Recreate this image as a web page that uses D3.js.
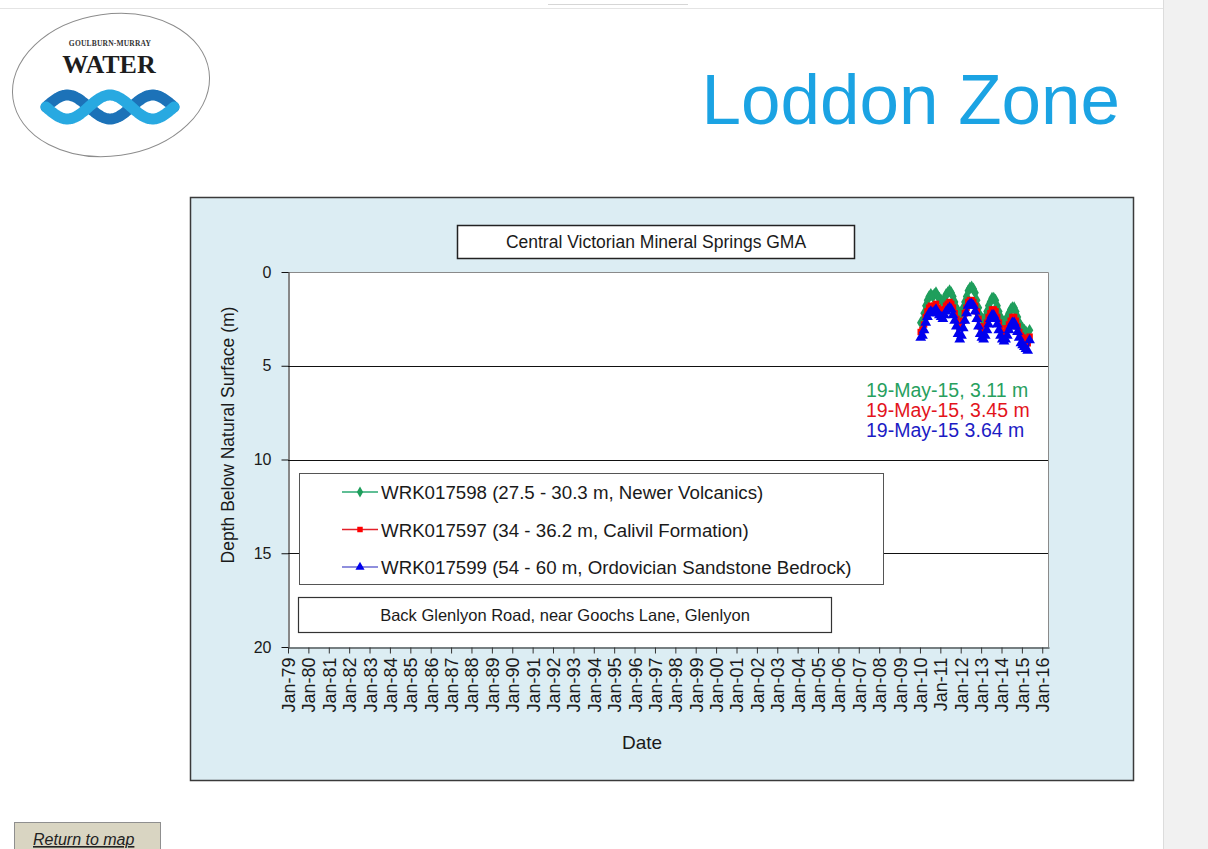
<!DOCTYPE html>
<html>
<head>
<meta charset="utf-8">
<script src="https://cdn.jsdelivr.net/npm/d3@7"></script>
<style>
  html, body { margin: 0; padding: 0; background: #fff; overflow: hidden; }
  svg { display: block; font-family: "Liberation Sans", Arial, sans-serif; }
</style>
</head>
<body>
<svg id="page" width="1208" height="849"></svg>
<script>
// ---- Bore observations (depth below natural surface, m) ----
const obsDates = [
  "2010-01-15","2010-02-15","2010-03-15","2010-04-15","2010-05-15","2010-06-15",
  "2010-07-15","2010-08-15","2010-09-15","2010-10-15","2010-11-15","2010-12-15",
  "2011-01-15","2011-02-15","2011-03-15","2011-04-15","2011-05-15","2011-06-15",
  "2011-07-15","2011-08-15","2011-09-15","2011-10-15","2011-11-15","2011-12-15",
  "2012-01-15","2012-02-15","2012-03-15","2012-04-15","2012-05-15","2012-06-15",
  "2012-07-15","2012-08-15","2012-09-15","2012-10-15","2012-11-15","2012-12-15",
  "2013-01-15","2013-02-15","2013-03-15","2013-04-15","2013-05-15","2013-06-15",
  "2013-07-15","2013-08-15","2013-09-15","2013-10-15","2013-11-15","2013-12-15",
  "2014-01-15","2014-02-15","2014-03-15","2014-04-15","2014-05-15","2014-06-15",
  "2014-07-15","2014-08-15","2014-09-15","2014-10-15","2014-11-15","2014-12-15",
  "2015-01-15","2015-02-15","2015-03-15","2015-04-15","2015-05-19"
];

const depthWRK017598 = [
  2.7, 2.6, 2.2, 1.8, 1.5, 1.3, 1.2, 1.3, 1.2, 1.1, 1.3, 1.4,
  1.5, 1.6, 1.4, 1.2, 1.1, 1.0, 1.1, 1.3, 1.6, 1.9, 2.1, 2.3,
  2.2, 1.9, 1.6, 1.3, 1.0, 0.85, 0.8, 0.9, 1.1, 1.5, 1.9, 2.3,
  2.5, 2.6, 2.4, 2.1, 1.8, 1.6, 1.4, 1.4, 1.5, 1.8, 2.1, 2.4,
  2.6, 2.7, 2.6, 2.4, 2.2, 2.0, 1.9, 1.9, 2.1, 2.4, 2.7, 2.9,
  3.0, 3.1, 3.2, 3.3, 3.11
];

const depthWRK017597 = [
  3.2, 3.1, 2.8, 2.4, 2.1, 1.9, 1.8, 1.9, 1.8, 1.7, 1.9, 2.0,
  2.1, 2.2, 2.0, 1.8, 1.7, 1.6, 1.7, 1.9, 2.2, 2.5, 2.8, 3.0,
  2.9, 2.6, 2.2, 1.9, 1.6, 1.5, 1.5, 1.6, 1.8, 2.1, 2.5, 2.9,
  3.1, 3.2, 3.0, 2.7, 2.4, 2.2, 2.0, 2.0, 2.1, 2.4, 2.7, 3.0,
  3.2, 3.3, 3.2, 3.0, 2.8, 2.6, 2.4, 2.4, 2.6, 2.9, 3.2, 3.4,
  3.5, 3.6, 3.7, 3.8, 3.45
];

const depthWRK017599 = [
  3.5, 3.4, 3.1, 2.7, 2.4, 2.2, 2.1, 2.2, 2.1, 2.0, 2.2, 2.3,
  2.4, 2.5, 2.3, 2.1, 2.0, 1.9, 2.0, 2.3, 2.6, 2.9, 3.3, 3.6,
  3.4, 3.0, 2.6, 2.2, 1.8, 1.7, 1.7, 1.8, 2.1, 2.5, 2.9, 3.3,
  3.5, 3.6, 3.4, 3.1, 2.8, 2.5, 2.3, 2.3, 2.5, 2.8, 3.1, 3.4,
  3.6, 3.7, 3.6, 3.4, 3.1, 2.9, 2.7, 2.7, 2.9, 3.2, 3.5, 3.8,
  3.9, 4.0, 4.1, 4.2, 3.64
];

const seriesNames = [
  "WRK017598 (27.5 - 30.3 m, Newer Volcanics)",
  "WRK017597 (34 - 36.2 m, Calivil Formation)",
  "WRK017599 (54 - 60 m, Ordovician Sandstone Bedrock)"
];
const latestSeparators = [", ", ", ", " "];

const yTickValues = [0, 5, 10, 15, 20];
const xStart = "1979-01-01";
const xEnd = "2016-05-01";

const pageTitle = "Loddon Zone";
const chartTitle = "Central Victorian Mineral Springs GMA";
const siteLabel = "Back Glenlyon Road, near Goochs Lane, Glenlyon";
const yAxisTitle = "Depth Below Natural Surface (m)";
const xAxisTitle = "Date";

// ---- Styling ----
const seriesStyle = [
  { color: "#1f9e5c", line: "#2aa872", text: "#27a05e", symbol: d3.symbolDiamond, size: 34 },
  { color: "#ff0000", line: "#e3202a", text: "#e3141c", symbol: d3.symbolSquare,  size: 30 },
  { color: "#0000ee", line: "#6a6ad2", text: "#1c1cc4", symbol: d3.symbolTriangle, size: 36 }
];

const parse = d3.timeParse("%Y-%m-%d");
const dates = obsDates.map(parse);
const seriesData = [depthWRK017598, depthWRK017597, depthWRK017599].map(vals =>
  vals.map((v, i) => ({ date: dates[i], depth: v })));

const svg = d3.select("#page");

// ---- Page furniture ----
svg.append("rect").attr("x", 1163).attr("y", 0).attr("width", 45).attr("height", 849)
  .attr("fill", "#f1f1f1");
svg.append("line").attr("x1", 1163.5).attr("x2", 1163.5).attr("y1", 0).attr("y2", 849)
  .attr("stroke", "#dcdcdc");
svg.append("line").attr("x1", 0).attr("x2", 1163).attr("y1", 8.5).attr("y2", 8.5)
  .attr("stroke", "#e4e4e4");
svg.append("line").attr("x1", 548).attr("x2", 688).attr("y1", 4.5).attr("y2", 4.5)
  .attr("stroke", "#d6d6d6");

// Logo
const logo = svg.append("g");
logo.append("ellipse").attr("cx", 111).attr("cy", 85).attr("rx", 99).attr("ry", 71)
  .attr("transform", "rotate(-8 111 85)")
  .attr("fill", "#fff").attr("stroke", "#8c8c8c").attr("stroke-width", 1);
logo.append("text").attr("x", 110).attr("y", 46).attr("text-anchor", "middle")
  .style("font-family", "'Liberation Serif', serif").style("font-weight", "bold")
  .style("font-size", "7.5px").style("letter-spacing", "0.2px").attr("fill", "#333")
  .text("GOULBURN-MURRAY");
logo.append("text").attr("x", 109).attr("y", 73).attr("text-anchor", "middle")
  .style("font-family", "'Liberation Serif', serif").style("font-weight", "bold")
  .style("font-size", "26px").attr("fill", "#1d1d1d").text("WATER");

// Twisted ribbon emblem
const ribbon = (phase) => {
  const pts = d3.range(0, 1.0001, 0.01).map(t => {
    const x = 46 + t * 128;
    const y = 107 + phase * 12 * Math.sin(t * Math.PI * 3);
    return [x, y];
  });
  return d3.line().curve(d3.curveBasis)(pts);
};
logo.append("path").attr("d", ribbon(-1)).attr("fill", "none")
  .attr("stroke", "#1c72b8").attr("stroke-width", 11).attr("stroke-linecap", "round");
logo.append("path").attr("d", ribbon(1)).attr("fill", "none")
  .attr("stroke", "#28a9e1").attr("stroke-width", 11).attr("stroke-linecap", "round");

svg.append("text").attr("x", 1120).attr("y", 124).attr("text-anchor", "end")
  .style("font-size", "71px").attr("fill", "#1ba3e3").text(pageTitle);

// Return button
svg.append("rect").attr("x", 14.5).attr("y", 822.5).attr("width", 146).attr("height", 36)
  .attr("fill", "#d9d5c2").attr("stroke", "#8f8f8f");
svg.append("text").attr("x", 33).attr("y", 845)
  .style("font-size", "16px").style("font-style", "italic")
  .style("text-decoration", "underline").attr("fill", "#222").text("Return to map");

// ---- Chart frame ----
svg.append("rect").attr("x", 190.5).attr("y", 197.5).attr("width", 943).attr("height", 583)
  .attr("fill", "#dcedf3").attr("stroke", "#3a3a3a").attr("stroke-width", 1.5);

const plot = { left: 288, top: 272, right: 1049, bottom: 647 };

const x = d3.scaleTime().domain([parse(xStart), parse(xEnd)]).range([plot.left, plot.right]);
const y = d3.scaleLinear().domain([0, 20]).range([plot.top, plot.bottom]);

svg.append("rect").attr("x", plot.left).attr("y", plot.top)
  .attr("width", plot.right - plot.left).attr("height", plot.bottom - plot.top)
  .attr("fill", "#fff");

// Gridlines
svg.append("g").selectAll("line").data(yTickValues.filter(v => v > 0 && v < 20)).join("line")
  .attr("x1", plot.left).attr("x2", plot.right)
  .attr("y1", d => Math.round(y(d)) + 0.5).attr("y2", d => Math.round(y(d)) + 0.5)
  .attr("stroke", "#111").attr("stroke-width", 1);

// Plot border (top / right)
svg.append("path")
  .attr("d", `M${plot.left},${plot.top + 0.5}H${plot.right - 0.5}V${plot.bottom}`)
  .attr("fill", "none").attr("stroke", "#8a8a8a").attr("stroke-width", 1);

// Y axis
const yAxis = svg.append("g").attr("transform", `translate(${plot.left + 0.5},0)`)
  .call(d3.axisLeft(y).tickValues(yTickValues).tickSize(7).tickPadding(10).tickSizeOuter(0));
yAxis.select(".domain").attr("stroke", "#111");
yAxis.selectAll(".tick line").attr("stroke", "#111");
yAxis.selectAll("text").style("font-size", "16px").attr("fill", "#1a1a1a")
  .style("font-family", "'Liberation Sans', Arial, sans-serif");

// X axis
const xAxis = svg.append("g").attr("transform", `translate(0,${plot.bottom + 0.5})`)
  .call(d3.axisBottom(x).ticks(d3.timeYear.every(1)).tickFormat(d3.timeFormat("%b-%y"))
    .tickSize(6).tickSizeOuter(0));
xAxis.select(".domain").attr("stroke", "#111");
xAxis.selectAll(".tick line").attr("stroke", "#333");
xAxis.selectAll("text")
  .style("font-size", "18px").attr("fill", "#1a1a1a")
  .style("font-family", "'Liberation Sans', Arial, sans-serif")
  .attr("transform", "rotate(-90)")
  .attr("text-anchor", "end")
  .attr("x", -10).attr("y", 0).attr("dy", "0.36em");

// Axis titles
svg.append("text").attr("transform", "translate(234,435) rotate(-90)")
  .attr("text-anchor", "middle").style("font-size", "17.5px").attr("fill", "#1a1a1a")
  .text(yAxisTitle);
svg.append("text").attr("x", 642).attr("y", 749).attr("text-anchor", "middle")
  .style("font-size", "19px").attr("fill", "#1a1a1a").text(xAxisTitle);

// Series lines and markers
const line = d3.line().x(d => x(d.date)).y(d => y(d.depth));
seriesData.forEach((data, i) => {
  const st = seriesStyle[i];
  svg.append("path").datum(data).attr("d", line)
    .attr("fill", "none").attr("stroke", st.color).attr("stroke-width", 1.6);
  svg.append("g").selectAll("path").data(data).join("path")
    .attr("transform", d => `translate(${x(d.date)},${y(d.depth)})`)
    .attr("d", d3.symbol(st.symbol, st.size * 1.4))
    .attr("fill", st.color);
});

// Latest readings
const fmtDay = d3.timeFormat("%d-%b-%y");
seriesData.forEach((data, i) => {
  const last = data[data.length - 1];
  svg.append("text").attr("x", 866).attr("y", 397 + i * 20)
    .style("font-size", "19.5px").attr("fill", seriesStyle[i].text)
    .text(`${fmtDay(last.date)}${latestSeparators[i]}${last.depth.toFixed(2)} m`);
});

// Chart title box
svg.append("rect").attr("x", 457.5).attr("y", 225.5).attr("width", 397).attr("height", 33)
  .attr("fill", "#fff").attr("stroke", "#222").attr("stroke-width", 1.5);
svg.append("text").attr("x", 656).attr("y", 248).attr("text-anchor", "middle")
  .style("font-size", "17.5px").attr("fill", "#1a1a1a").text(chartTitle);

// Legend
const legend = svg.append("g");
legend.append("rect").attr("x", 299.5).attr("y", 473.5).attr("width", 584).attr("height", 111)
  .attr("fill", "#fff").attr("stroke", "#555");
seriesNames.forEach((name, i) => {
  const st = seriesStyle[i];
  const ly = 492 + i * 37.5;
  legend.append("line").attr("x1", 342).attr("x2", 378).attr("y1", ly).attr("y2", ly)
    .attr("stroke", st.line).attr("stroke-width", 1.6);
  legend.append("path").attr("transform", `translate(360,${ly})`)
    .attr("d", d3.symbol(st.symbol, st.size)).attr("fill", st.color);
  legend.append("text").attr("x", 381).attr("y", ly + 7)
    .style("font-size", "18.7px").attr("fill", "#1a1a1a").text(name);
});

// Site description box
svg.append("rect").attr("x", 298.5).attr("y", 597.5).attr("width", 533).attr("height", 35)
  .attr("fill", "#fff").attr("stroke", "#333").attr("stroke-width", 1.2);
svg.append("text").attr("x", 565).attr("y", 621).attr("text-anchor", "middle")
  .style("font-size", "16.5px").attr("fill", "#1a1a1a").text(siteLabel);
</script>
</body>
</html>
